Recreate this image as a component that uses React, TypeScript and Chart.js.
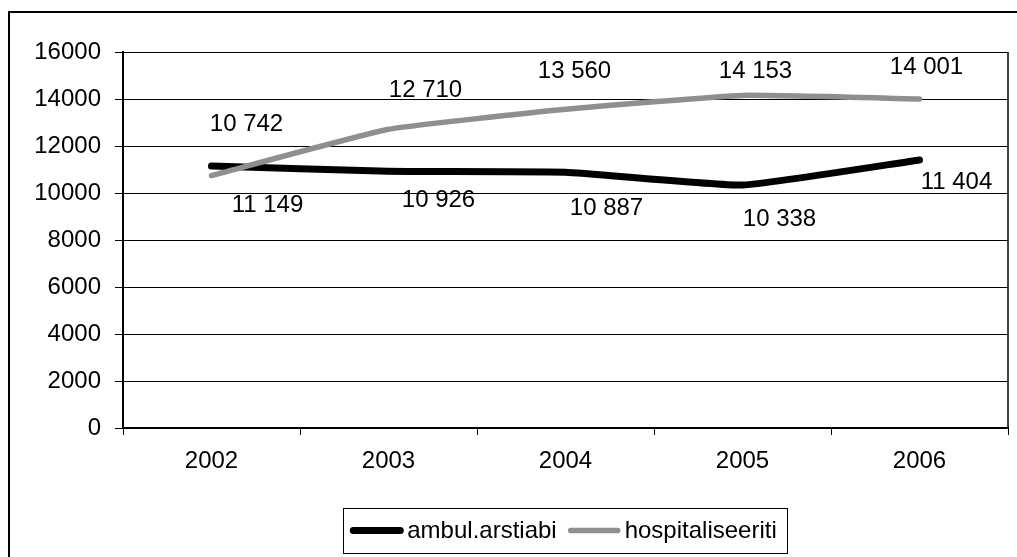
import React, { useEffect, useRef } from 'react';
import { Chart, registerables } from 'chart.js';

Chart.register(...registerables);

// ---- data ----
const categories = ['2002', '2003', '2004', '2005', '2006'];
const seriesNames = ['ambul.arstiabi', 'hospitaliseeriti'];
const ambulValues = [11149, 10926, 10887, 10338, 11404];
const hospitalValues = [10742, 12710, 13560, 14153, 14001];
const yTickValues = [0, 2000, 4000, 6000, 8000, 10000, 12000, 14000, 16000];

// ---- styles / label placement (pixel offsets from each point) ----
const FONT_FAMILY = '"Liberation Sans", Arial, Helvetica, sans-serif';
const FONT_SIZE = 24;
const ambulLabelOffsets = [[56, 39], [50, 29], [41, 36], [37, 34], [37, 22]];
const hospitalLabelOffsets = [[35, -51], [37, -39], [9, -38], [13, -24], [7, -32]];

const fmt = (v: number) => String(v).replace(/\B(?=(\d{3})+(?!\d))/g, ' ');

const dataLabelPlugin = {
  id: 'dataLabelsCustom',
  afterDatasetsDraw(chart: any) {
    const ctx = chart.ctx;
    const offsets = [ambulLabelOffsets, hospitalLabelOffsets];
    ctx.save();
    ctx.font = `${FONT_SIZE}px ${FONT_FAMILY}`;
    ctx.fillStyle = '#000';
    ctx.textAlign = 'center';
    ctx.textBaseline = 'middle';
    chart.data.datasets.forEach((ds: any, i: number) => {
      const meta = chart.getDatasetMeta(i);
      meta.data.forEach((pt: any, j: number) => {
        const [dx, dy] = offsets[i][j];
        ctx.fillText(fmt(ds.data[j]), pt.x + dx, pt.y + dy);
      });
    });
    ctx.restore();
  },
};

const frameAndLegendPlugin = {
  id: 'frameAndLegend',
  afterDraw(chart: any) {
    const ctx = chart.ctx;
    const a = chart.chartArea;
    ctx.save();
    // right border of plot area
    ctx.strokeStyle = '#000';
    ctx.lineWidth = 1.5;
    ctx.beginPath();
    ctx.moveTo(a.right, a.top);
    ctx.lineTo(a.right, a.bottom);
    ctx.stroke();

    // legend
    ctx.font = `${FONT_SIZE}px ${FONT_FAMILY}`;
    const sample = 53;
    const gap = 4;
    const itemGap = 11;
    const padL = 7;
    const padR = 11;
    const w0 = ctx.measureText(seriesNames[0]).width;
    const w1 = ctx.measureText(seriesNames[1]).width;
    const total = padL + sample + gap + w0 + itemGap + sample + gap + w1 + padR;
    const cx = (a.left + a.right) / 2;
    const left = cx - total / 2;
    const top = a.bottom + 80;
    const h = 45;
    ctx.lineWidth = 1;
    ctx.strokeStyle = '#000';
    ctx.strokeRect(Math.round(left) + 0.5, Math.round(top) + 0.5, Math.round(total), h);
    const midY = top + h / 2;
    const dsets = chart.data.datasets;
    let x = left + padL;
    [0, 1].forEach((i) => {
      ctx.strokeStyle = dsets[i].borderColor;
      ctx.lineWidth = dsets[i].borderWidth;
      ctx.lineCap = 'round';
      ctx.beginPath();
      ctx.moveTo(x + 3, midY);
      ctx.lineTo(x + sample - 3, midY);
      ctx.stroke();
      x += sample + gap;
      ctx.fillStyle = '#000';
      ctx.textAlign = 'left';
      ctx.textBaseline = 'middle';
      ctx.fillText(seriesNames[i], x, midY + 1);
      x += (i === 0 ? w0 : w1) + itemGap;
    });
    ctx.restore();
  },
};

export default function App() {
  const ref = useRef<HTMLCanvasElement>(null);

  useEffect(() => {
    const canvas = ref.current;
    if (!canvas) return;
    const chart = new Chart(canvas, {
      type: 'line',
      data: {
        labels: categories,
        datasets: [
          {
            label: seriesNames[0],
            data: ambulValues,
            borderColor: '#000000',
            backgroundColor: '#000000',
            borderWidth: 7,
            pointRadius: 0,
            tension: 0.12,
            borderCapStyle: 'round',
            borderJoinStyle: 'round',
            fill: false,
            order: 1,
          },
          {
            label: seriesNames[1],
            data: hospitalValues,
            borderColor: '#8f8f8f',
            backgroundColor: '#8f8f8f',
            borderWidth: 5.5,
            pointRadius: 0,
            tension: 0.12,
            borderCapStyle: 'round',
            borderJoinStyle: 'round',
            fill: false,
            order: 0,
          },
        ],
      },
      options: {
        responsive: false,
        devicePixelRatio: 1,
        animation: false,
        events: [],
        layout: { padding: { left: 0, top: 52, right: 9, bottom: 0 } },
        plugins: {
          legend: { display: false },
          tooltip: { enabled: false },
          title: { display: false },
        },
        scales: {
          x: {
            type: 'category',
            offset: true,
            grid: {
              offset: true,
              drawOnChartArea: false,
              drawTicks: true,
              tickLength: 7,
              color: '#000',
              lineWidth: 1,
            },
            border: { display: true, color: '#000', width: 2 },
            ticks: {
              color: '#000',
              padding: 12,
              font: { family: FONT_FAMILY, size: FONT_SIZE },
              maxRotation: 0,
            },
            afterFit: (s: any) => {
              s.height = 129;
            },
          },
          y: {
            min: 0,
            max: 16000,
            afterBuildTicks: (s: any) => {
              s.ticks = yTickValues.map((v) => ({ value: v }));
            },
            grid: {
              drawTicks: true,
              tickLength: 8,
              color: '#000',
              lineWidth: 1,
            },
            border: { display: true, color: '#000', width: 2 },
            ticks: {
              color: '#000',
              padding: 14,
              font: { family: FONT_FAMILY, size: FONT_SIZE },
              callback: (v: any) => String(v),
            },
            afterFit: (s: any) => {
              s.width = 123;
            },
          },
        },
      },
      plugins: [dataLabelPlugin, frameAndLegendPlugin],
    } as any);
    return () => chart.destroy();
  }, []);

  return (
    <div
      style={{
        position: 'absolute',
        left: 0,
        top: 0,
        width: 1017,
        height: 557,
        overflow: 'hidden',
        background: '#fff',
      }}
    >
      <div
        style={{
          position: 'absolute',
          left: 8,
          top: 11,
          width: 1009,
          height: 546,
          borderLeft: '2px solid #000',
          borderTop: '2px solid #000',
          boxSizing: 'border-box',
        }}
      />
      <canvas
        ref={ref}
        width={1017}
        height={557}
        style={{ position: 'absolute', left: 0, top: 0 }}
      />
    </div>
  );
}
